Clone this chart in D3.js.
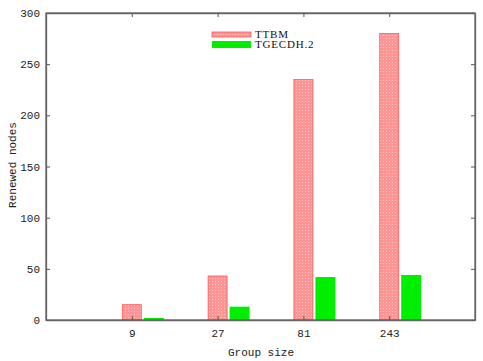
<!DOCTYPE html>
<html>
<head>
<meta charset="utf-8">
<script src="https://cdn.jsdelivr.net/npm/d3@7"></script>
<style>
  body { margin: 0; background: #fff; }
  .tick text { font-family: "Liberation Mono", monospace; font-size: 11px; fill: #222; }
</style>
</head>
<body>
<script>
var groups = ["9", "27", "81", "243"];
var ttbm = [15, 43, 235, 280];
var tgecdh = [2, 13, 42, 44];
var yTicks = [0, 50, 100, 150, 200, 250, 300];

var W = 483, H = 361;
var margin = { top: 13, right: 8, bottom: 41, left: 46 },
  width = W - margin.left - margin.right,
  height = H - margin.top - margin.bottom;

var svg = d3.select("body").append("svg")
  .attr("width", W)
  .attr("height", H);

var defs = svg.append("defs");
var pat = defs.append("pattern")
  .attr("id", "dots")
  .attr("patternUnits", "userSpaceOnUse")
  .attr("width", 3)
  .attr("height", 3);
pat.append("rect").attr("width", 3).attr("height", 3).attr("fill", "#ff9494");
pat.append("rect").attr("x", 1).attr("y", 1).attr("width", 1).attr("height", 1).attr("fill", "#f5c4c4");

var g = svg.append("g")
  .attr("transform", "translate(" + margin.left + "," + margin.top + ")");

// positions 1..4 on a 0..5 axis
var x = d3.scaleLinear().domain([0, 5]).range([0, width]);
var y = d3.scaleLinear().domain([0, 300]).range([height, 0]);
var barW = 19;

g.selectAll(".bar1")
  .data(ttbm)
  .enter().append("rect")
  .attr("class", "bar1")
  .attr("x", function (d, i) { return x(i + 1) - 9.5; })
  .attr("y", function (d) { return y(d); })
  .attr("width", barW)
  .attr("height", function (d) { return height - y(d); })
  .attr("fill", "url(#dots)")
  .attr("stroke", "#ff5a5a")
  .attr("stroke-width", 0.8);

g.selectAll(".bar2")
  .data(tgecdh)
  .enter().append("rect")
  .attr("class", "bar2")
  .attr("x", function (d, i) { return x(i + 1) + 12; })
  .attr("y", function (d) { return y(d); })
  .attr("width", 20)
  .attr("height", function (d) { return height - y(d); })
  .attr("fill", "#00ee00");

// axes with inward ticks, box all round
var xAxis = d3.axisBottom(x)
  .tickValues([1, 2, 3, 4])
  .tickFormat(function (d) { return groups[d - 1]; })
  .tickSizeInner(-4).tickSizeOuter(0).tickPadding(9);
var yAxis = d3.axisLeft(y)
  .tickValues(yTicks)
  .tickSizeInner(-4).tickSizeOuter(0).tickPadding(6);

g.append("g").attr("transform", "translate(0," + height + ")").call(xAxis);
g.append("g").call(yAxis);
g.append("g").call(d3.axisTop(x).tickValues([1, 2, 3, 4]).tickFormat("").tickSizeInner(-4).tickSizeOuter(0));
g.append("g").attr("transform", "translate(" + width + ",0)")
  .call(d3.axisRight(y).tickValues(yTicks).tickFormat("").tickSizeInner(-4).tickSizeOuter(0));

g.selectAll(".domain").attr("stroke", "#666").attr("stroke-width", 1.3);
g.selectAll(".tick line").attr("stroke", "#555");

g.append("rect")
  .attr("width", width).attr("height", height)
  .attr("fill", "none").attr("stroke", "#666").attr("stroke-width", 1.3);

// axis titles
svg.append("text")
  .attr("x", 261).attr("y", 356)
  .attr("text-anchor", "middle")
  .style("font-family", "Liberation Mono, monospace")
  .style("font-size", "11px")
  .attr("fill", "#222")
  .text("Group size");

svg.append("text")
  .attr("transform", "translate(16,165) rotate(-90)")
  .attr("text-anchor", "middle")
  .style("font-family", "Liberation Mono, monospace")
  .style("font-size", "11px")
  .attr("fill", "#222")
  .text("Renewed nodes");

// legend
var legend = svg.append("g");
var items = [
  { name: "TTBM", fill: "url(#dots)", stroke: "#ff5a5a", h: 5 },
  { name: "TGECDH.2", fill: "#00ee00", stroke: "none", h: 7 }
];
items.forEach(function (it, i) {
  legend.append("rect")
    .attr("x", 212).attr("y", 32 + i * 9)
    .attr("width", 39).attr("height", it.h)
    .attr("fill", it.fill).attr("stroke", it.stroke).attr("stroke-width", 0.8);
  legend.append("text")
    .attr("x", 255).attr("y", 37.5 + i * 10.5)
    .style("font-family", "Liberation Serif, serif")
    .style("font-size", "11px")
    .style("letter-spacing", "0.8px")
    .attr("fill", "#111")
    .text(it.name);
});
</script>
</body>
</html>
